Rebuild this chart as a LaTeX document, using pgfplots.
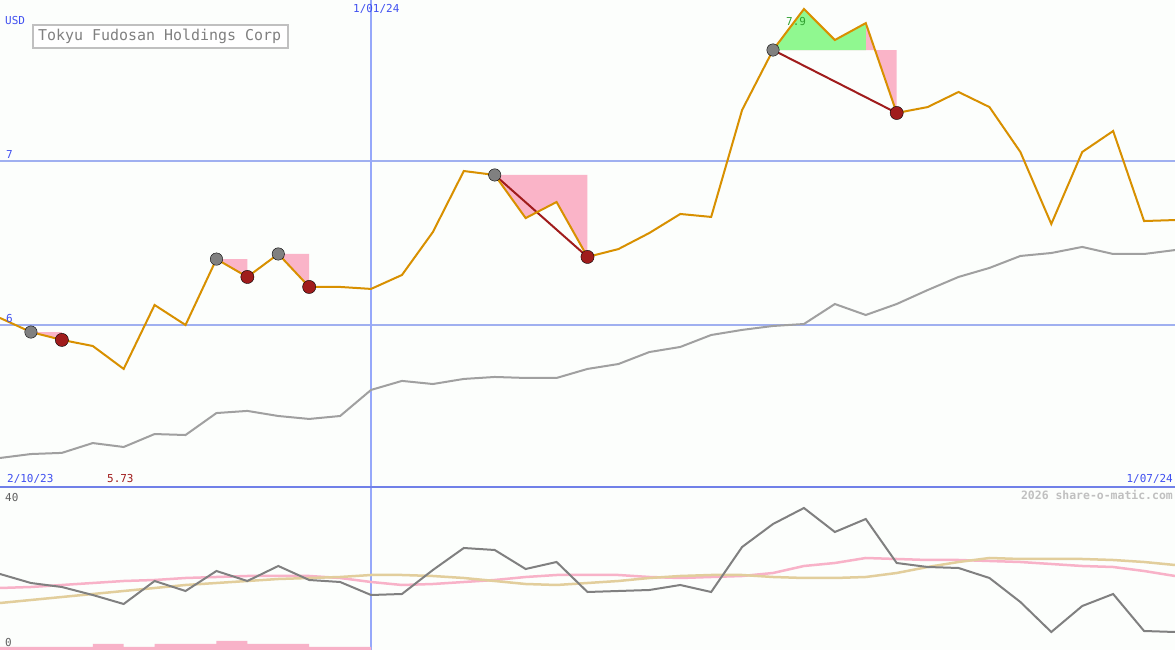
\documentclass[border=0pt]{standalone}
\usepackage{fontspec}
\setmainfont{DejaVu Sans Mono}
\usepackage{pgfplots}
\pgfplotsset{compat=1.18}
\usepackage{pgfplotstable}

\definecolor{bgc}{RGB}{252,254,252}
\definecolor{gridblue}{RGB}{160,176,240}
\definecolor{vline}{RGB}{150,168,250}
\definecolor{sepblue}{RGB}{112,128,232}
\definecolor{txtblue}{RGB}{64,80,240}
\definecolor{priceor}{RGB}{216,144,0}
\definecolor{magray}{RGB}{160,160,160}
\definecolor{fillpink}{RGB}{250,180,200}
\definecolor{fillgreen}{RGB}{144,248,144}
\definecolor{dred}{RGB}{160,28,28}
\definecolor{mkgray}{RGB}{128,128,128}
\definecolor{oscgray}{RGB}{128,128,128}
\definecolor{oscpink}{RGB}{248,178,200}
\definecolor{osctan}{RGB}{226,206,156}
\definecolor{lbltxt}{RGB}{96,96,96}
\definecolor{wmark}{RGB}{192,192,192}
\definecolor{hitxt}{RGB}{48,160,48}

% i = trading week index, price, moving average, lower-panel lines
\pgfplotstableread{
i price ma osc oscp osct
0 6.043 5.189 19.00 15.50 11.75
1 5.957 5.213 16.75 15.75 12.50
2 5.909 5.220 15.75 16.25 13.25
3 5.872 5.280 13.75 16.75 14.00
4 5.732 5.256 11.50 17.25 14.75
5 6.122 5.335 17.25 17.50 15.50
6 6.000 5.329 14.75 18.00 16.25
7 6.402 5.463 19.75 18.25 16.75
8 6.293 5.476 17.25 18.50 17.25
9 6.433 5.445 21.00 18.50 17.75
10 6.232 5.427 17.50 18.50 18.00
11 6.232 5.445 17.00 18.00 18.25
12 6.220 5.604 13.75 17.00 18.75
13 6.305 5.659 14.00 16.25 18.75
14 6.567 5.640 20.00 16.50 18.50
15 6.939 5.671 25.50 17.00 18.00
16 6.915 5.683 25.00 17.50 17.25
17 6.652 5.677 20.25 18.25 16.50
18 6.750 5.677 22.00 18.75 16.25
19 6.415 5.732 14.50 18.75 16.75
20 6.463 5.762 14.75 18.75 17.25
21 6.561 5.835 15.00 18.25 18.00
22 6.677 5.866 16.25 18.00 18.50
23 6.659 5.939 14.50 18.25 18.75
24 7.311 5.970 25.75 18.50 18.75
25 7.677 5.994 31.50 19.25 18.25
26 7.927 6.006 35.50 21.00 18.00
27 7.738 6.128 29.50 21.75 18.00
28 7.841 6.061 32.75 23.00 18.25
29 7.293 6.128 21.75 22.75 19.25
30 7.329 6.213 20.75 22.50 20.75
31 7.421 6.293 20.50 22.50 22.00
32 7.329 6.348 18.00 22.25 23.00
33 7.055 6.421 12.00 22.00 22.75
34 6.616 6.439 4.50 21.50 22.75
35 7.055 6.476 11.00 21.00 22.75
36 7.183 6.433 14.00 20.75 22.50
37 6.634 6.433 4.75 19.75 22.00
38 6.640 6.457 4.50 18.50 21.25
}\data

\pgfplotstableread{
i p
1 5.957
7 6.402
9 6.433
16 6.915
25 7.677
}\buypts

\pgfplotstableread{
i p
2 5.909
8 6.293
10 6.232
19 6.415
29 7.293
}\sellpts

\begin{document}
\begin{tikzpicture}
\useasboundingbox (0,0) rectangle (1175bp,650bp);
\fill[bgc] (0,0) rectangle (1175bp,650bp);

% price panel
\begin{axis}[
  at={(0,163bp)}, anchor=south west,
  width=1175bp, height=487bp, scale only axis,
  xmin=0, xmax=38, ymin=5.012, ymax=7.982,
  axis line style={draw=none},
  xtick=\empty, ytick={6,7}, yticklabels={},
  major tick length=0pt,
  ymajorgrids, major grid style={gridblue, line width=2bp},
]
\draw[vline, line width=1.2bp] (axis cs:12,5.012) -- (axis cs:12,7.982);
% drawdown areas
\addplot[fill=fillpink, draw=none] coordinates {(1,5.957) (2,5.957) (2,5.909)};
\addplot[fill=fillpink, draw=none] coordinates {(7,6.402) (8,6.402) (8,6.293)};
\addplot[fill=fillpink, draw=none] coordinates {(9,6.433) (10,6.433) (10,6.232)};
\addplot[fill=fillpink, draw=none] coordinates {(16,6.915) (19,6.915) (19,6.415) (18,6.750) (17,6.652) (16,6.915)};
\addplot[fill=fillpink, draw=none] coordinates {(25,7.677) (29,7.677) (29,7.293) (28,7.841) (27,7.738) (26,7.927) (25,7.677)};
\addplot[fill=fillgreen, draw=none] coordinates {(25,7.677) (26,7.927) (27,7.738) (28,7.841) (28,7.677)};
% moving average
\addplot[magray, line width=2bp] table[x=i, y=ma] {\data};
% trade links
\addplot[dred, line width=2bp] coordinates {(16,6.915) (19,6.415)};
\addplot[dred, line width=2bp] coordinates {(25,7.677) (29,7.293)};
\addplot[only marks, mark=*, mark size=6.2bp, mark options={fill=mkgray, draw=none}] table[x=i, y=p] {\buypts};
\addplot[only marks, mark=*, mark size=6.6bp, mark options={fill=dred, draw=none}] table[x=i, y=p] {\sellpts};
% price
\addplot[priceor, line width=2bp] table[x=i, y=price] {\data};
\end{axis}

% lower panel
\begin{axis}[
  at={(0,0)}, anchor=south west,
  width=1175bp, height=163bp, scale only axis,
  xmin=0, xmax=38, ymin=0, ymax=40.75,
  axis line style={draw=none},
  xtick=\empty, ytick=\empty,
]
\draw[vline, line width=1.2bp] (axis cs:12,0) -- (axis cs:12,40.75);
\addplot[const plot, fill=oscpink, draw=none] coordinates {
  (0,0.75) (1,0.75) (2,0.75) (3,1.5) (4,0.75) (5,1.5) (6,1.5)
  (7,2.25) (8,1.5) (9,1.5) (10,0.75) (11,0.75) (12,0.75)
} \closedcycle;
\addplot[oscpink, line width=2.5bp] table[x=i, y=oscp] {\data};
\addplot[osctan, line width=2.5bp] table[x=i, y=osct] {\data};
\addplot[oscgray, line width=2bp] table[x=i, y=osc] {\data};
\end{axis}

\draw[sepblue, line width=2.5bp] (0,163bp) -- (1175bp,163bp);

% labels
\begin{scope}[every node/.style={inner sep=0pt, font=\fontsize{11}{12}\selectfont}]
\node[anchor=base west, text=txtblue] at (5bp,625bp) {USD};
\node[anchor=base west, text=txtblue] at (353bp,637bp) {1/01/24};
\node[anchor=base west, text=txtblue] at (6bp,491bp) {7};
\node[anchor=base west, text=txtblue] at (6bp,327bp) {6};
\node[anchor=base west, text=txtblue] at (7bp,167bp) {2/10/23};
\node[anchor=base west, text=dred] at (107bp,167bp) {5.73};
\node[anchor=base east, text=txtblue] at (1173bp,167bp) {1/07/24};
\node[anchor=base west, text=hitxt] at (786bp,624bp) {7.9};
\node[anchor=base west, text=lbltxt] at (5bp,148bp) {40};
\node[anchor=base west, text=lbltxt] at (5bp,4bp) {0};
\node[anchor=base east, text=wmark, font=\fontsize{11.5}{13}\selectfont\bfseries] at (1173bp,150bp) {2026 share-o-matic.com};
\end{scope}

\draw[wmark, line width=2bp, fill=white] (33bp,625bp) rectangle (288bp,602bp);
\node[anchor=base west, inner sep=0pt, text=mkgray, font=\fontsize{15}{17}\selectfont] at (38bp,609bp) {Tokyu Fudosan Holdings Corp};
\end{tikzpicture}
\end{document}
